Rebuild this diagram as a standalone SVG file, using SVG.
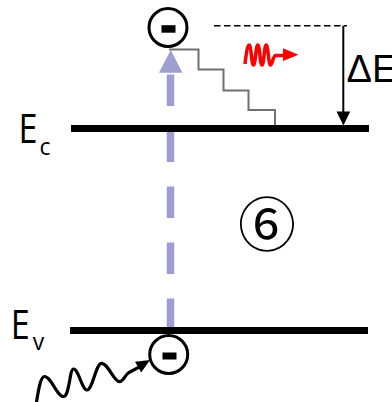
<svg xmlns="http://www.w3.org/2000/svg" width="392" height="402" viewBox="0 0 392 402">
  <style>
    .lbl { font-family: "Open Sans", "Liberation Sans", sans-serif; fill: #000; }
    .level { stroke: #000; stroke-width: 7; }
    .eball { fill: #fff; stroke: #000; stroke-width: 3; }
    .minus { fill: #000; }
  </style>
  <rect width="392" height="402" fill="#fff"/>

  <g id="connectors">
    <!-- lavender dashed excitation arrow -->
    <line x1="170.5" y1="330" x2="170.5" y2="74.5" stroke="#9E9ED0" stroke-width="7.5" stroke-dasharray="31.5 24.5"/>
    <polygon points="159,72.7 182.5,72.7 170.7,50" fill="#9E9ED0"/>
    <!-- thermalisation staircase -->
    <polyline points="169,49.5 198.5,49.5 198.5,69.5 223.5,69.5 223.5,90.5 248.5,90.5 248.5,110 275,110 275,125" fill="none" stroke="#707070" stroke-width="2"/>
    <!-- red wavy arrow -->
    <path d="M245,64 C246.5,52 247.5,45 249.2,45 C251.2,45 251.5,65 253.5,65 C255.5,65 255.8,45 257.8,45 C259.8,45 260,65 262,65 C264,65 264.2,45 266.2,45 C268.2,45 268.5,65 270.5,65 C272.3,65 273,56 275.5,55.5 L284,55.5" fill="none" stroke="#FF0000" stroke-width="3.5" stroke-linejoin="round"/>
    <polygon points="283,48.3 298.5,54.7 283,61" fill="#FF0000"/>
    <!-- dashed reference line -->
    <line x1="214" y1="25.7" x2="347" y2="25.7" stroke="#000" stroke-width="1.6" stroke-dasharray="6.5 3.5"/>
    <!-- ΔE arrow -->
    <line x1="343.3" y1="25.7" x2="343.3" y2="113" stroke="#000" stroke-width="2"/>
    <polygon points="336.5,111.5 350.3,111.5 343.4,125.5" fill="#000"/>
    <!-- incoming photon -->
    <path d="M36.5,402 C38.5,390 40.5,376.5 44.5,376.5 C51,376.5 57,396.5 63.5,396.5 C69.5,396.5 69.5,369 73.5,369 C78.5,369 82,390 87,390 C92.5,390 96,363.3 101.5,363.3 C108,363.3 114,381.7 119.5,381.7 C124,381.7 125.5,373 130,372 L139,367.2" fill="none" stroke="#000" stroke-width="3.2" stroke-linecap="round" stroke-linejoin="round"/>
    <polygon points="150,360 135,361.8 141.2,372.4" fill="#000"/>
  </g>

  <g id="ec-level">
    <line class="level" x1="71" y1="128.5" x2="369" y2="128.5"/>
    <text class="lbl" x="18.5" y="143.3" font-size="40" textLength="19" lengthAdjust="spacingAndGlyphs">E</text>
    <text class="lbl" x="39.5" y="155" font-size="23">c</text>
  </g>

  <g id="ev-level">
    <line class="level" x1="70" y1="330.5" x2="368" y2="330.5"/>
    <text class="lbl" x="10.8" y="339" font-size="40" textLength="19" lengthAdjust="spacingAndGlyphs">E</text>
    <text class="lbl" x="32.8" y="350" font-size="23">v</text>
  </g>

  <g id="electron-top">
    <circle class="eball" cx="168" cy="27.5" r="19"/>
    <rect class="minus" x="161.5" y="25.2" width="14" height="7.5"/>
  </g>

  <g id="electron-bottom">
    <circle class="eball" cx="168.7" cy="354.5" r="19"/>
    <rect class="minus" x="162.5" y="352.5" width="14" height="7"/>
  </g>

  <g id="delta-e">
    <text x="346.5" y="81.7" font-size="38" font-family="'Liberation Sans', Arial, sans-serif">ΔE</text>
  </g>

  <g id="step-6">
    <text x="267" y="246" font-size="58" text-anchor="middle" font-family="'Noto Sans CJK JP', 'DejaVu Sans', sans-serif">⑥</text>
  </g>
</svg>
